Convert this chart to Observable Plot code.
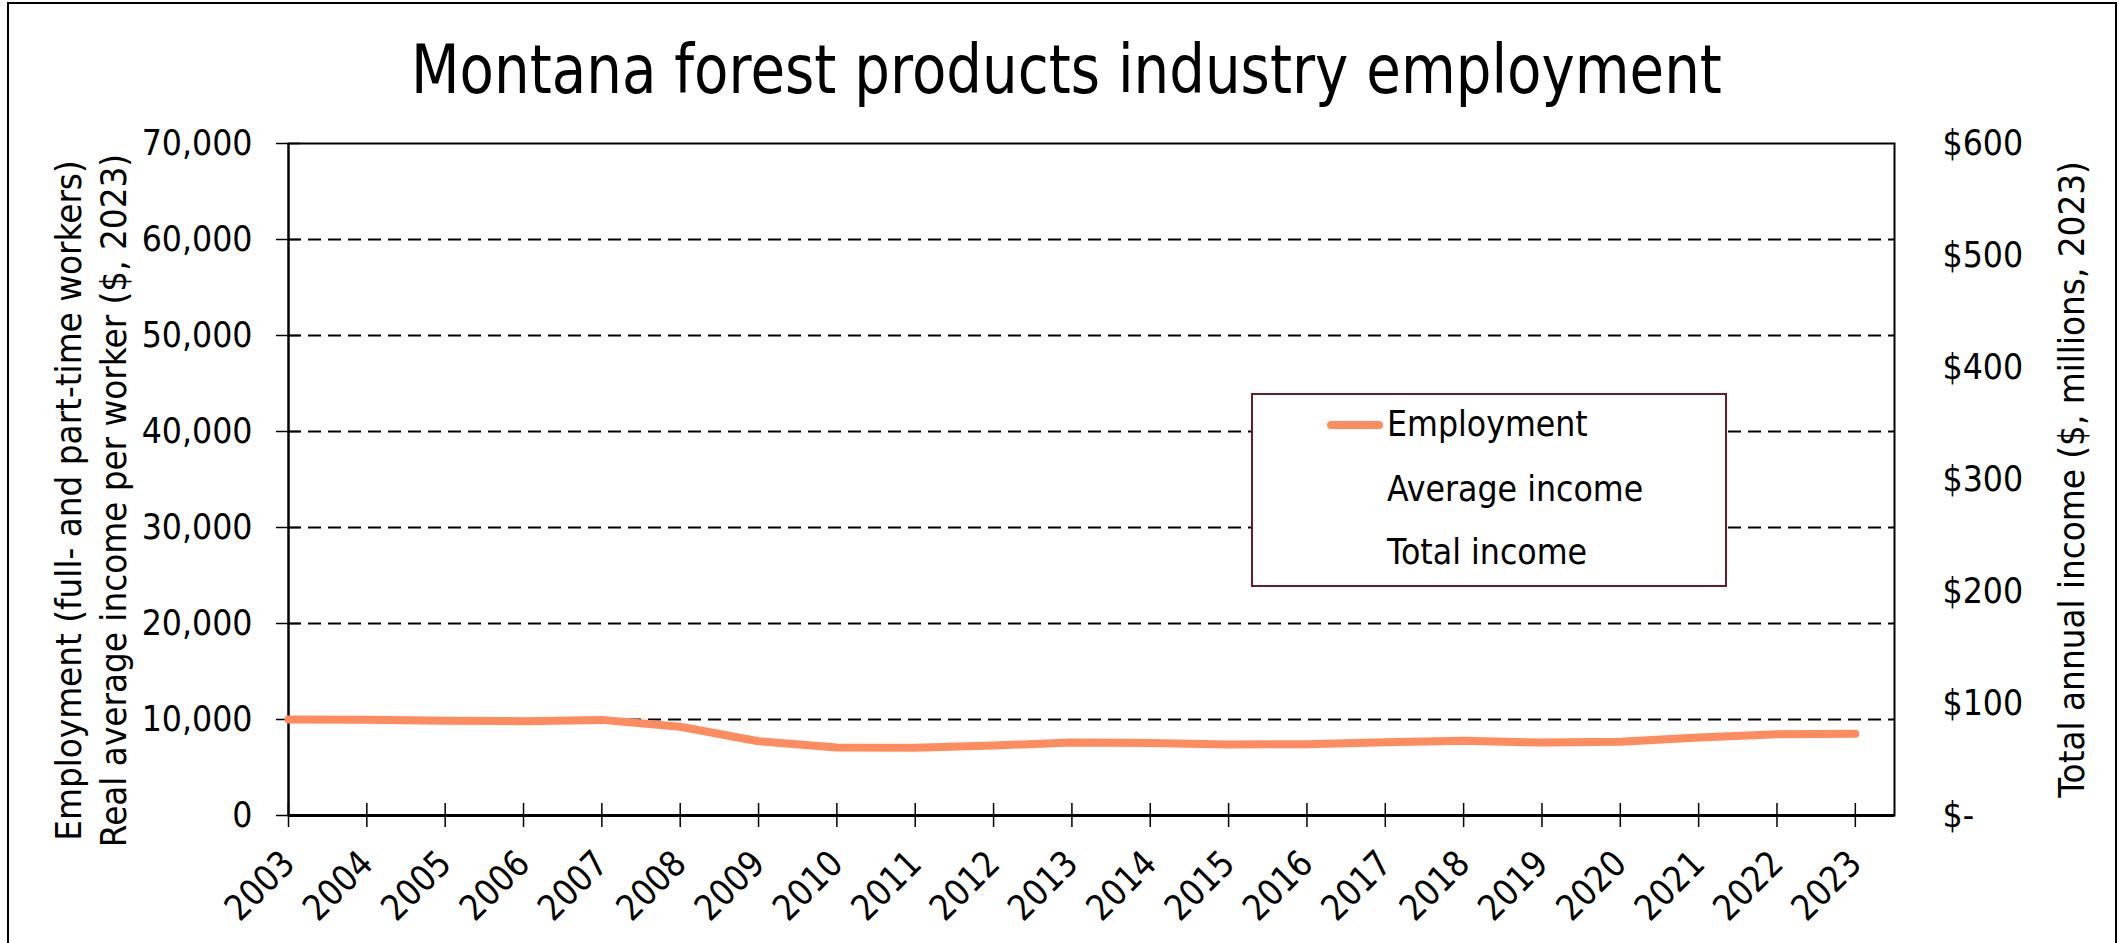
<!DOCTYPE html>
<html>
<head>
<meta charset="utf-8">
<script src="https://cdn.jsdelivr.net/npm/d3@7"></script>
<script src="https://cdn.jsdelivr.net/npm/@observablehq/plot@0.6"></script>
<style>
  html, body { margin: 0; padding: 0; background: #fff; }
  #wrap { position: relative; width: 2119px; height: 943px; overflow: hidden; font-family: "DejaVu Sans", Verdana, sans-serif; color: #000; }
  #border { position: absolute; left: 7px; top: 2px; width: 2110px; height: 980px; border: 2px solid #000; box-sizing: border-box; pointer-events: none; }
  #legend { position: absolute; left: 1251px; top: 393px; width: 476px; height: 194px; box-sizing: border-box; border: 2px solid #6b1a2a; background: #fff; }
  #legend .sw { position: absolute; left: 74px; top: 26px; width: 56px; height: 8px; border-radius: 4px; }
  #legend .lab { position: absolute; left: 134px; font-size: 36px; line-height: 36px; white-space: nowrap; transform: scaleX(0.88); transform-origin: left center; }
</style>
</head>
<body>
<div id="wrap"><div id="chart"></div><div id="legend"></div><div id="border"></div></div>
<script>
// ---- data ----
const titleText = "Montana forest products industry employment";
const years = [2003, 2004, 2005, 2006, 2007, 2008, 2009, 2010, 2011, 2012, 2013,
               2014, 2015, 2016, 2017, 2018, 2019, 2020, 2021, 2022, 2023];
const employment = [10000, 9970, 9860, 9830, 9960, 9240, 7740, 7080, 7050, 7290, 7600,
                    7560, 7400, 7430, 7640, 7780, 7600, 7670, 8130, 8470, 8510];
const leftTicks = [0, 10000, 20000, 30000, 40000, 50000, 60000, 70000];
const gridValues = [10000, 20000, 30000, 40000, 50000, 60000];
const incomeTicks = [0, 100, 200, 300, 400, 500, 600];
const incomeTickLabels = ["$-", "$100", "$200", "$300", "$400", "$500", "$600"];
const leftTitle1 = "Employment (full- and part-time workers)";
const leftTitle2 = "Real average income per worker ($, 2023)";
const rightTitle = "Total annual income ($, millions, 2023)";
const legendItems = ["Employment", "Average income", "Total income"];
const lineColor = "#ff8c5e";

// secondary axis mapping: $600 million aligns with 70,000
const incomeMax = 600, leftMax = 70000;
const rightTickPositions = incomeTicks.map(v => v * leftMax / incomeMax);

const data = years.map((y, i) => ({year: y, employment: employment[i]}));

const chart = Plot.plot({
  width: 2119,
  height: 943,
  marginLeft: 288,
  marginRight: 225,
  marginTop: 143,
  marginBottom: 128,
  style: {fontFamily: "DejaVu Sans, Verdana, sans-serif", fontSize: "36px", color: "#000", background: "transparent", overflow: "visible"},
  x: {domain: [2003, 2023.5], axis: null},
  y: {domain: [0, leftMax], axis: null},
  marks: [
    Plot.ruleY(gridValues, {stroke: "#000", strokeWidth: 2, strokeDasharray: "13,7"}),
    Plot.frame({stroke: "#000", strokeWidth: 2}),
    // crossing tick marks (no labels)
    Plot.axisY({anchor: "left", ticks: leftTicks, tickSize: 24, dx: 12, tickFormat: () => "", strokeWidth: 1.5, label: null}),
    Plot.axisX({anchor: "bottom", ticks: years, tickSize: 24, dy: -12, tickFormat: () => "", strokeWidth: 1.5, label: null}),
    // labels
    Plot.axisY({anchor: "left", ticks: leftTicks, tickSize: 0, tickPadding: 36, tickFormat: d3.format(","), fontSize: 36, label: null}),
    Plot.axisY({anchor: "right", ticks: rightTickPositions, tickSize: 0, tickPadding: 48,
                tickFormat: d => incomeTickLabels[rightTickPositions.indexOf(d)], fontSize: 36, textAnchor: "start", label: null}),
    Plot.axisX({anchor: "bottom", ticks: years, tickSize: 0, tickPadding: 42, tickRotate: -45,
                tickFormat: d => String(d), fontSize: 36, label: null}),
    Plot.ruleY([0], {stroke: "#000", strokeWidth: 3}),
    Plot.ruleX([2003], {stroke: "#000", strokeWidth: 2}),
    Plot.line(data, {x: "year", y: "employment", stroke: lineColor, strokeWidth: 8, strokeLinecap: "round", strokeLinejoin: "round"}),
    Plot.text([titleText], {frameAnchor: "top", textAnchor: "middle", lineAnchor: "middle", dx: -25, dy: -72, fontSize: 67}),
    Plot.text([leftTitle1], {frameAnchor: "left", textAnchor: "middle", lineAnchor: "middle", rotate: -90, dx: -219.5, dy: 21, fontSize: 36}),
    Plot.text([leftTitle2], {frameAnchor: "left", textAnchor: "middle", lineAnchor: "middle", rotate: -90, dx: -174.5, dy: 21, fontSize: 36}),
    Plot.text([rightTitle], {frameAnchor: "right", textAnchor: "middle", lineAnchor: "middle", rotate: -90, dx: 177.5, dy: 0, fontSize: 36})
  ]
});
document.getElementById("chart").appendChild(chart);

// condense the substitute font to Tahoma-like proportions (scale along the baseline)
const axisTitles = [leftTitle1, leftTitle2, rightTitle];
chart.querySelectorAll("text").forEach(t => {
  const txt = t.textContent;
  const k = txt === titleText ? 0.84 : axisTitles.includes(txt) ? 0.91 : 0.88;
  const tr = t.getAttribute("transform");
  if (tr) {
    t.setAttribute("transform", tr + ` scale(${k},1)`);
  } else {
    const L = t.getComputedTextLength();
    if (L > 0) {
      t.setAttribute("textLength", (L * k).toFixed(1));
      t.setAttribute("lengthAdjust", "spacingAndGlyphs");
    }
  }
});

// legend
const legend = document.getElementById("legend");
const sw = document.createElement("div");
sw.className = "sw";
sw.style.background = lineColor;
legend.appendChild(sw);
const tops = [11, 76, 139];
legendItems.forEach((name, i) => {
  const s = document.createElement("div");
  s.className = "lab";
  s.style.top = tops[i] + "px";
  s.textContent = name;
  legend.appendChild(s);
});
</script>
</body>
</html>
